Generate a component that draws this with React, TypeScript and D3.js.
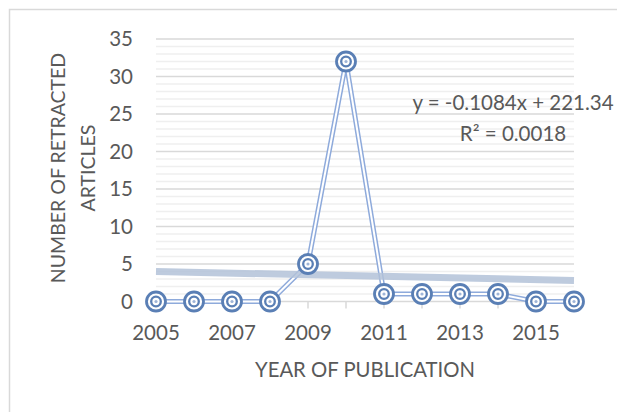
import React, { useRef, useEffect } from 'react';
import * as d3 from 'd3';

// data
const years = [2005, 2006, 2007, 2008, 2009, 2010, 2011, 2012, 2013, 2014, 2015, 2016];
const retracted = [0, 0, 0, 0, 5, 32, 1, 1, 1, 1, 0, 0];
const yTicks = [0, 5, 10, 15, 20, 25, 30, 35];
const xLabelYears = [2005, 2007, 2009, 2011, 2013, 2015];
const trendSlope = -0.1084;
const trendIntercept = 221.34;
const trendLabel = ['y = -0.1084x + 221.34', 'R² = 0.0018'];

const W = 617;
const H = 412;
const FONT = 'Lato, "Open Sans", sans-serif';
const TEXT = '#595959';

const App = () => {
  const svgRef = useRef<SVGSVGElement>(null);

  useEffect(() => {
    const svg = d3.select(svgRef.current);
    svg.selectAll('*').remove();

    const x = d3.scaleLinear().domain([2005, 2016]).range([156, 574]);
    const y = d3.scaleLinear().domain([0, 35]).range([301.5, 39]);

    // chart area border
    svg.append('rect')
      .attr('x', 9.5).attr('y', 9.5)
      .attr('width', W + 20).attr('height', H + 20)
      .attr('fill', 'white').attr('stroke', '#d9d9d9').attr('stroke-width', 1.5);

    // minor gridlines
    svg.append('g').selectAll('line')
      .data(d3.range(1, 35).filter(v => v % 5 !== 0))
      .join('line')
      .attr('x1', x(2005)).attr('x2', x(2016))
      .attr('y1', d => y(d)).attr('y2', d => y(d))
      .attr('stroke', '#efefef').attr('stroke-width', 1.3);

    // major gridlines
    svg.append('g').selectAll('line')
      .data(yTicks)
      .join('line')
      .attr('x1', x(2005)).attr('x2', x(2016))
      .attr('y1', d => y(d)).attr('y2', d => y(d))
      .attr('stroke', '#d9d9d9').attr('stroke-width', 1.6);

    // x tick marks
    svg.append('g').selectAll('line')
      .data(years)
      .join('line')
      .attr('x1', d => x(d)).attr('x2', d => x(d))
      .attr('y1', y(0)).attr('y2', y(0) + 7)
      .attr('stroke', '#d9d9d9').attr('stroke-width', 1.5);

    // y tick labels
    svg.append('g').selectAll('text')
      .data(yTicks)
      .join('text')
      .attr('x', 133).attr('y', d => y(d))
      .attr('dy', '0.36em')
      .attr('text-anchor', 'end')
      .attr('font-family', FONT).attr('font-size', 20.5).attr('fill', TEXT)
      .text(d => d);

    // x tick labels
    svg.append('g').selectAll('text')
      .data(xLabelYears)
      .join('text')
      .attr('x', d => x(d)).attr('y', 333)
      .attr('dy', '0.36em')
      .attr('text-anchor', 'middle')
      .attr('font-family', FONT).attr('font-size', 20.5).attr('fill', TEXT)
      .text(d => d);

    // series line (double compound line)
    const line = d3.line<number>()
      .x((d, i) => x(years[i]))
      .y(d => y(d));
    svg.append('path')
      .attr('d', line(retracted))
      .attr('fill', 'none').attr('stroke', '#8eaadb').attr('stroke-width', 5)
      .attr('stroke-linejoin', 'round');
    svg.append('path')
      .attr('d', line(retracted))
      .attr('fill', 'none').attr('stroke', 'white').attr('stroke-width', 2)
      .attr('stroke-linejoin', 'round');

    // linear trendline
    svg.append('line')
      .attr('x1', x(2005)).attr('x2', x(2016))
      .attr('y1', y(trendSlope * 2005 + trendIntercept))
      .attr('y2', y(trendSlope * 2016 + trendIntercept))
      .attr('stroke', '#b3c2d8').attr('stroke-opacity', 0.85).attr('stroke-width', 7);

    // markers
    const m = svg.append('g').selectAll('g')
      .data(retracted)
      .join('g')
      .attr('transform', (d, i) => `translate(${x(years[i])},${y(d)})`);
    m.append('circle').attr('r', 9.5).attr('fill', 'white')
      .attr('stroke', '#5a7fb5').attr('stroke-width', 2.8);
    m.append('circle').attr('r', 4.8).attr('fill', 'white')
      .attr('stroke', '#5a7fb5').attr('stroke-width', 2.3);
    m.append('circle').attr('r', 1.6).attr('fill', '#9fb5d8');

    // trendline label
    svg.append('g').selectAll('text')
      .data(trendLabel)
      .join('text')
      .attr('x', 513).attr('y', (d, i) => 103 + i * 31)
      .attr('dy', '0.36em')
      .attr('text-anchor', 'middle')
      .attr('font-family', FONT).attr('font-size', 20.5).attr('fill', TEXT)
      .text(d => d);

    // axis titles
    svg.append('text')
      .attr('x', 365).attr('y', 370).attr('dy', '0.36em')
      .attr('text-anchor', 'middle')
      .attr('font-family', FONT).attr('font-size', 20.3).attr('fill', TEXT)
      .text('YEAR OF PUBLICATION');

    const yTitle = svg.append('text')
      .attr('transform', 'translate(73,168) rotate(-90)')
      .attr('text-anchor', 'middle')
      .attr('font-family', FONT).attr('font-size', 19.5).attr('fill', TEXT);
    yTitle.append('tspan').attr('x', 0).attr('y', -15).attr('dy', '0.36em').text('NUMBER OF RETRACTED');
    yTitle.append('tspan').attr('x', 0).attr('y', 15).attr('dy', '0.36em').text('ARTICLES');
  }, []);

  return (
    <svg ref={svgRef} width={W} height={H}
      style={{ position: 'absolute', left: 0, top: 0, background: 'white' }} />
  );
};

export default App;
